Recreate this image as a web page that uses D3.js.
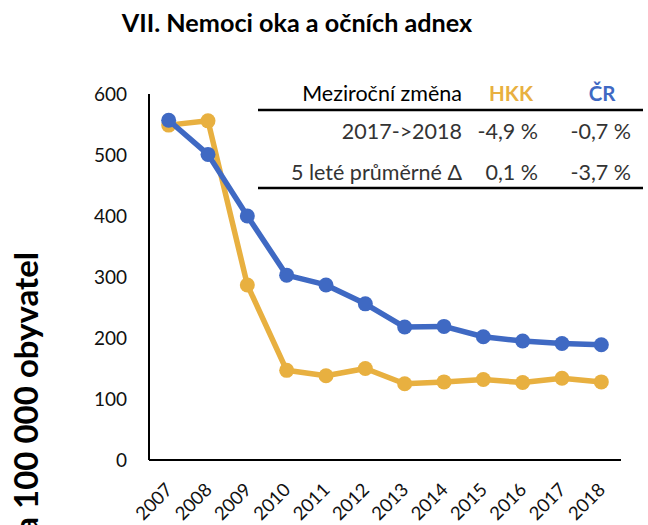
<!DOCTYPE html>
<html><head><meta charset="utf-8">
<script src="https://cdn.jsdelivr.net/npm/d3@7"></script>
<style>
body{margin:0;background:#fff;}
svg{display:block;font-family:Lato,"Open Sans",sans-serif;}
</style></head>
<body><svg id="c" width="648" height="525"></svg>
<script>
const years = ["2007","2008","2009","2010","2011","2012","2013","2014","2015","2016","2017","2018"];
const hkk = [549, 556, 287, 147, 138, 150, 125, 128, 132, 127, 134, 128];
const cr  = [557, 501, 400, 303, 287, 256, 218, 219, 202, 195, 191, 189];
const yTicks = [0, 100, 200, 300, 400, 500, 600];
const seriesNames = ["HKK", "ČR"];
const tableHeader = "Meziroční změna";
const rowLabels = ["2017->2018", "5 leté průměrné Δ"];
const hkkChanges = ["-4,9 %", "0,1 %"];
const crChanges = ["-0,7 %", "-3,7 %"];
const title = "VII. Nemoci oka a očních adnex";
const yLabel = "na 100 000 obyvatel";

const colors = {HKK:"#E8B040", "ČR":"#3F69C3"};
const svg = d3.select("#c");
const pL = 149, pR = 621, pT = 94, pB = 460;

const x = d3.scaleBand().domain(years).range([pL, pR]);
const y = d3.scaleLinear().domain([0, 600]).range([pB, pT]);

// title
svg.append("text").attr("x", 297).attr("y", 32).attr("text-anchor","middle")
  .attr("font-size", 25.2).attr("font-weight","bold").attr("fill","#000").text(title);

// y axis label
svg.append("text").attr("transform","translate(38,252) rotate(-90)")
  .attr("text-anchor","end").attr("font-size",33).attr("font-weight","bold")
  .attr("fill","#000").text(yLabel);

// axes
const yAxis = svg.append("g").attr("transform",`translate(${pL},0)`)
  .call(d3.axisLeft(y).tickValues(yTicks).tickSize(0).tickPadding(22));
yAxis.select(".domain").attr("stroke","#000").attr("stroke-width",2).attr("d",`M0,${pT}V${pB}`);
yAxis.selectAll("text").attr("font-size",19).attr("fill","#111").attr("font-family","Lato,sans-serif");

const xAxis = svg.append("g").attr("transform",`translate(0,${pB})`)
  .call(d3.axisBottom(x).tickSize(0).tickFormat(d=>d));
xAxis.select(".domain").attr("stroke","#000").attr("stroke-width",2).attr("d",`M${pL},0H${pR}`);
xAxis.selectAll("text").attr("font-size",18.5).attr("fill","#111").attr("font-family","Lato,sans-serif")
  .attr("text-anchor","end").attr("dy",0).attr("y",0)
  .attr("transform","translate(5,31) rotate(-45)");

// lines
const line = d3.line().x((d,i)=>x(years[i])+x.bandwidth()/2).y(d=>y(d));
[["HKK",hkk],["ČR",cr]].forEach(([name,vals])=>{
  const g = svg.append("g");
  g.append("path").datum(vals).attr("d",line).attr("fill","none")
    .attr("stroke",colors[name]).attr("stroke-width",5.5).attr("stroke-linejoin","round");
  g.selectAll("circle").data(vals).join("circle")
    .attr("cx",(d,i)=>x(years[i])+x.bandwidth()/2).attr("cy",d=>y(d)).attr("r",7.5)
    .attr("fill",colors[name]);
});

// table
const t = svg.append("g").attr("font-size",21.5);
t.append("rect").attr("x",258).attr("y",76).attr("width",385).attr("height",114).attr("fill","#fff");
t.append("text").attr("x",462).attr("y",101).attr("text-anchor","end").attr("fill","#000").text(tableHeader);
t.append("text").attr("x",511).attr("y",101).attr("text-anchor","middle").attr("font-weight","bold")
  .attr("font-size",20.5).attr("fill",colors.HKK).text(seriesNames[0]);
t.append("text").attr("x",602).attr("y",101).attr("text-anchor","middle").attr("font-weight","bold")
  .attr("font-size",20.5).attr("fill",colors["ČR"]).text(seriesNames[1]);
t.append("line").attr("x1",258).attr("x2",643).attr("y1",110).attr("y2",110).attr("stroke","#000").attr("stroke-width",2.5);
t.append("line").attr("x1",258).attr("x2",643).attr("y1",188).attr("y2",188).attr("stroke","#000").attr("stroke-width",2.5);
const rowY = [139, 180];
rowLabels.forEach((lab,i)=>{
  t.append("text").attr("x",462).attr("y",rowY[i]).attr("text-anchor","end").attr("fill","#333").text(lab);
  t.append("text").attr("x",538).attr("y",rowY[i]).attr("text-anchor","end").attr("fill","#333").text(hkkChanges[i]);
  t.append("text").attr("x",631).attr("y",rowY[i]).attr("text-anchor","end").attr("fill","#333").text(crChanges[i]);
});
</script></body></html>
